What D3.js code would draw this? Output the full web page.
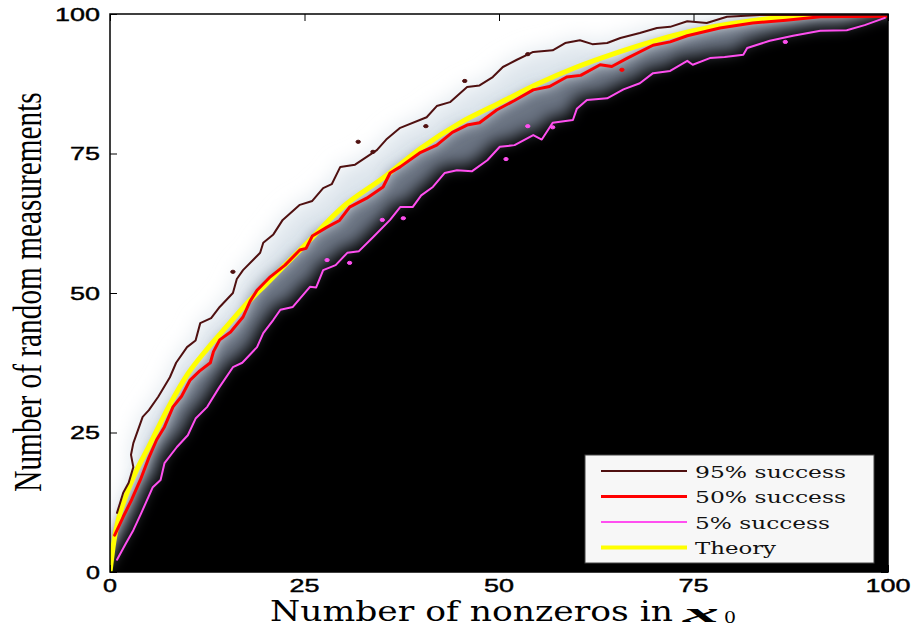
<!DOCTYPE html>
<html><head><meta charset="utf-8">
<script src="https://cdn.jsdelivr.net/npm/d3@7"></script>
<style>body{margin:0;background:#fff}</style>
</head><body><svg id="c" width="913" height="628"></svg>
<script>
// ---- data ----
const xTicks = [0, 25, 50, 75, 100];
const yTicks = [0, 25, 50, 75, 100];
const seriesNames = ["95% success", "50% success", "5% success", "Theory"];

// contour lines: [nonzeros k, measurements m]
const success95 = [[0.9,10.6],[1.7,14.2],[2.4,16.0],[3.0,18.8],[2.7,21.0],[3.0,23.1],[4.2,27.8],[5.0,29.0],[6.2,31.4],[7.7,34.9],[8.5,37.5],[9.9,40.3],[11.0,41.5],[11.6,44.6],[13.0,45.5],[14.1,47.5],[15.8,50.0],[16.3,52.5],[17.1,54.1],[19.3,57.2],[19.7,59.0],[21.0,60.5],[22.2,63.1],[24.4,65.8],[26.0,66.5],[27.4,68.8],[28.5,69.5],[29.6,72.6],[31.5,73.0],[34.3,75.6],[35.5,77.5],[37.3,79.6],[40.7,81.5],[42.0,83.5],[43.7,84.2],[45.9,86.9],[47.5,87.2],[49.2,88.7],[50.5,90.5],[52.3,91.8],[54.4,93.2],[56.9,93.5],[58.5,94.8],[60.4,95.3],[62.0,94.6],[63.9,94.8],[65.6,95.7],[68.1,96.6],[70.3,97.5],[72.0,97.7],[74.2,98.7],[76.7,98.4],[79.3,99.5],[83.5,99.8],[100,99.8]];
const success50 = [[0.6,6.6],[1.7,9.9],[2.8,13.0],[3.9,16.5],[5.0,20.5],[6.0,23.7],[7.0,26.0],[8.1,29.6],[9.2,31.5],[10.3,34.4],[11.5,36.0],[12.9,37.5],[13.3,39.5],[14.1,41.6],[15.5,43.0],[17.1,45.7],[18.0,48.5],[18.9,50.5],[20.6,52.9],[22.5,55.0],[24.4,57.7],[25.2,58.0],[26.0,60.2],[27.9,61.8],[29.5,63.0],[30.8,65.4],[33.0,67.0],[35.1,69.0],[36.0,71.5],[37.3,72.6],[39.8,75.1],[42.0,76.5],[44.0,78.8],[45.9,80.1],[47.5,80.5],[49.7,82.8],[52.0,84.5],[54.4,86.4],[56.5,87.0],[58.7,88.7],[60.5,89.0],[63.0,90.9],[64.5,90.6],[66.5,92.1],[69.8,94.4],[72.0,95.0],[74.2,96.1],[78.4,97.5],[82.6,98.4],[86.9,98.9],[91.3,99.5],[99.9,99.6]];
const success5 = [[0.9,2.2],[2.0,5.0],[3.0,7.5],[4.0,10.5],[5.5,15.2],[6.5,16.5],[7.0,19.5],[8.6,22.4],[10.0,24.5],[11.0,27.5],[12.5,29.6],[14.0,33.0],[15.8,36.7],[17.0,37.5],[18.9,40.3],[19.7,42.8],[21.0,45.2],[21.9,47.0],[23.5,47.5],[25.7,51.1],[26.5,51.0],[27.4,54.1],[29.0,55.0],[30.5,57.2],[32.0,57.5],[33.8,60.0],[36.0,63.1],[37.3,65.4],[38.9,65.4],[40.0,67.5],[41.5,69.0],[43.0,71.5],[44.6,72.0],[46.5,71.8],[48.5,73.8],[50.1,76.2],[52.0,76.5],[54.4,78.3],[55.5,77.5],[56.9,80.5],[59.5,81.0],[60.0,83.0],[61.3,84.6],[63.9,84.9],[66.0,86.5],[68.1,87.6],[69.8,89.4],[72.0,89.8],[74.2,91.6],[74.9,90.9],[77.1,92.1],[79.0,92.3],[81.4,92.7],[81.9,93.9],[84.8,95.2],[87.8,96.1],[91.3,97.0],[94.7,97.1],[97.0,98.0],[99.6,99.3]];
const theory = [[0,0],[0.5,5.5],[1,9],[2,13.5],[3,17],[5,22.5],[7.5,29.5],[10,35.5],[12.5,40],[15,44],[17.5,48],[20,51.5],[25,58.5],[30,65.5],[35,70.5],[40,76],[45,80.5],[50,84],[55,87.5],[60,90.5],[65,93],[70,95.2],[75,97],[80,98.3],[85,99.2],[90,99.7],[95,99.95],[100,100]];
// small isolated contour islands
const islands95 = [[31.9,77.1],[33.8,75.3],[40.6,79.9],[45.6,88.0],[53.7,92.8],[15.8,53.8]];
const islands50 = [[65.8,90.0]];
const islands5 = [[30.8,55.4],[35.0,63.1],[56.9,79.7],[53.7,79.9],[50.9,74.0],[86.8,95.0],[27.9,55.9],[37.7,63.4]];

// ---- layout ----
const svg = d3.select("#c");
const x = d3.scaleLinear().domain([0,100]).range([110,888]);
const y = d3.scaleLinear().domain([0,100]).range([572,14]);
const colors = {"95% success":"#4f1010","50% success":"#ff0000","5% success":"#ff4ff0","Theory":"#ffff00"};
const widths = {"95% success":2,"50% success":3,"5% success":2,"Theory":5};

const defs = svg.append("defs");
defs.append("clipPath").attr("id","plotClip").append("rect")
  .attr("x",x(0)).attr("y",y(100)).attr("width",x(100)-x(0)).attr("height",y(0)-y(100));
function blurFilter(id, s, dilate){
  const f = defs.append("filter").attr("id",id).attr("x","-20%").attr("y","-20%").attr("width","140%").attr("height","140%");
  if (dilate) {
    f.append("feMorphology").attr("operator","dilate").attr("radius",dilate).attr("in","SourceGraphic").attr("result","d");
    f.append("feGaussianBlur").attr("in","d").attr("stdDeviation",s);
  } else {
    f.append("feGaussianBlur").attr("stdDeviation",s);
  }
}
blurFilter("b1",11,0);
blurFilter("b2",7,0);
blurFilter("b3",8,5);

const plot = svg.append("g").attr("clip-path","url(#plotClip)");
plot.append("rect").attr("x",x(0)).attr("y",y(100)).attr("width",x(100)-x(0)).attr("height",y(0)-y(100)).attr("fill","#fff");

function regionBelow(pts){
  const pad = 40;
  const last = pts[pts.length-1];
  const p = pts.map(d=>[x(d[0]),y(d[1])]);
  return [[x(0)-pad,y(0)],[x(0),y(0)],...p,[x(100)+pad,y(last[1])],[x(100)+pad,y(0)+pad],[x(0)-pad,y(0)+pad]];
}
const poly = d3.line();
plot.append("path").attr("d",poly(regionBelow(success95))+"Z").attr("fill","#dde5ec").attr("filter","url(#b1)");
plot.append("path").attr("d",poly(regionBelow(success50))+"Z").attr("fill","#6a7382").attr("filter","url(#b2)");
plot.append("path").attr("d",poly(regionBelow(success5))+"Z").attr("fill","#000").attr("filter","url(#b3)");

const line = d3.line().x(d=>x(d[0])).y(d=>y(d[1]));
const smooth = d3.line().x(d=>x(d[0])).y(d=>y(d[1])).curve(d3.curveMonotoneX);
const lines = plot.append("g").attr("fill","none").attr("stroke-linejoin","round").attr("stroke-linecap","round");
lines.append("path").attr("d",smooth(theory)).attr("stroke",colors["Theory"]).attr("stroke-width",widths["Theory"]);
lines.append("path").attr("d",line(success50)).attr("stroke",colors["50% success"]).attr("stroke-width",widths["50% success"]);
lines.append("path").attr("d",line(success5)).attr("stroke",colors["5% success"]).attr("stroke-width",widths["5% success"]);
lines.append("path").attr("d",line(success95)).attr("stroke",colors["95% success"]).attr("stroke-width",widths["95% success"]);
[[islands95,"95% success"],[islands50,"50% success"],[islands5,"5% success"]].forEach(([arr,k])=>{
  plot.selectAll(null).data(arr).enter().append("ellipse")
    .attr("cx",d=>x(d[0])).attr("cy",d=>y(d[1])).attr("rx",2.2).attr("ry",1.6)
    .attr("fill",colors[k]).attr("stroke",colors[k]).attr("stroke-width",1);
});

// ---- axes (MATLAB-style inner ticks, box) ----
const tickLen = 7;
const axL = svg.append("g").attr("transform",`translate(${x(0)},0)`).call(d3.axisRight(y).tickValues(yTicks).tickSize(tickLen).tickFormat(""));
const axR = svg.append("g").attr("transform",`translate(${x(100)},0)`).call(d3.axisLeft(y).tickValues(yTicks).tickSize(tickLen).tickFormat(""));
const axT = svg.append("g").attr("transform",`translate(0,${y(100)})`).call(d3.axisBottom(x).tickValues(xTicks).tickSize(tickLen).tickFormat(""));
const axB = svg.append("g").attr("transform",`translate(0,${y(0)})`).call(d3.axisTop(x).tickValues(xTicks).tickSize(tickLen).tickFormat(""));
[axL,axR,axT,axB].forEach(a=>{a.select(".domain").remove(); a.selectAll("line").attr("stroke","#000").attr("stroke-width",1);});
svg.append("rect").attr("x",x(0)).attr("y",y(100)).attr("width",x(100)-x(0)).attr("height",y(0)-y(100))
  .attr("fill","none").attr("stroke","#000").attr("stroke-width",1.5);

// tick labels
const digitW = 15;
svg.append("g").selectAll("text").data(yTicks).enter().append("text")
  .attr("x",100).attr("y",d=>y(d)+6.5).attr("text-anchor","end")
  .attr("font-family","Liberation Sans, Arial, sans-serif").attr("font-size",18)
  .attr("stroke","#000").attr("stroke-width",0.4)
  .attr("textLength",d=>String(d).length*digitW - (String(d).length===1?1:0)).attr("lengthAdjust","spacingAndGlyphs")
  .text(d=>d);
svg.append("g").selectAll("text").data(xTicks).enter().append("text")
  .attr("x",d=>x(d)).attr("y",592).attr("text-anchor","middle")
  .attr("font-family","Liberation Sans, Arial, sans-serif").attr("font-size",18)
  .attr("stroke","#000").attr("stroke-width",0.4)
  .attr("textLength",d=>String(d).length*digitW - (String(d).length===1?1:0)).attr("lengthAdjust","spacingAndGlyphs")
  .text(d=>d);

// axis titles
svg.append("text").attr("transform","translate(41,292) scale(1.35,1) rotate(-90)")
  .attr("text-anchor","middle").attr("font-family","Liberation Serif, Times New Roman, serif").attr("font-size",29.3)
  .attr("fill","#000").text("Number of random measurements");
svg.append("text").attr("x",270).attr("y",621).attr("font-family","DejaVu Serif, serif").attr("font-size",27)
  .attr("textLength",403).attr("lengthAdjust","spacingAndGlyphs").text("Number of nonzeros in");
svg.append("text").attr("x",683).attr("y",622).attr("font-family","Liberation Serif, serif").attr("font-size",28)
  .attr("font-weight","bold").attr("font-style","italic")
  .attr("textLength",36).attr("lengthAdjust","spacingAndGlyphs").text("x");
svg.append("text").attr("x",724).attr("y",623).attr("font-family","DejaVu Serif, serif").attr("font-size",16)
  .attr("textLength",12).attr("lengthAdjust","spacingAndGlyphs").text("0");

// ---- legend ----
const leg = svg.append("g");
leg.append("rect").attr("x",585).attr("y",455).attr("width",289).attr("height",108)
  .attr("fill","#f7f7f7").attr("stroke","#444").attr("stroke-width",1);
const legW = {"95% success":151,"50% success":151,"5% success":135,"Theory":81};
seriesNames.forEach((n,i)=>{
  const cy = 471 + i*25.5;
  leg.append("line").attr("x1",601).attr("x2",687).attr("y1",cy).attr("y2",cy)
    .attr("stroke",colors[n]).attr("stroke-width",n==="Theory"?4:(n==="50% success"?3:2));
  leg.append("text").attr("x",695).attr("y",cy+6.5).attr("font-family","DejaVu Serif, serif").attr("font-size",17.5)
    .attr("fill","#111").attr("textLength",legW[n]).attr("lengthAdjust","spacingAndGlyphs").text(n);
});
</script></body></html>
